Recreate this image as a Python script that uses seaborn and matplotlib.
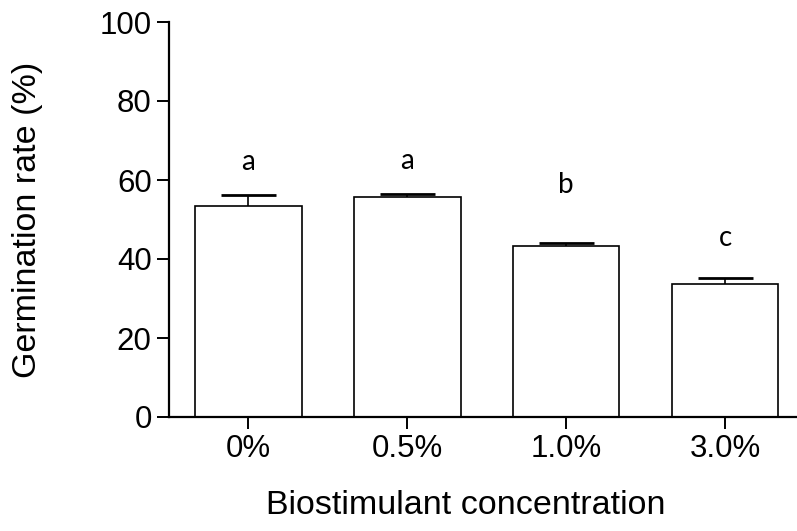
import matplotlib
matplotlib.use("Agg")
import matplotlib.pyplot as plt
import seaborn as sns
import pandas as pd
import numpy as np

categories = ["0%", "0.5%", "1.0%", "3.0%"]
means = [53.3, 55.8, 43.3, 33.7]
errors = [3.0, 0.6, 0.8, 1.5]
letters = ["a", "a", "b", "c"]
letter_y = [64.5, 64.8, 58.7, 45.3]
yticks = [0, 20, 40, 60, 80, 100]

sns.set_style("ticks")
plt.rcParams["font.family"] = ["Liberation Sans", "DejaVu Sans"]

fig = plt.figure(figsize=(7.97, 5.31), dpi=100)
W, H = 797, 531
x0, x1 = 169, 804.5
y0, y1 = 417, 22
ax = fig.add_axes([x0 / W, 1 - y0 / H, (x1 - x0) / W, (y0 - y1) / H])

df = pd.DataFrame({"cat": categories, "val": means})
sns.barplot(data=df, x="cat", y="val", ax=ax, color="white", edgecolor="black",
            linewidth=1.2, width=0.67, errorbar=None, saturation=1)

xs = np.arange(len(categories))
m = np.array(means)
e = np.array(errors)
cap = 0.173
ax.vlines(xs, m, m + e, colors="black", linewidth=1.2, zorder=3)
ax.hlines(m + e, xs - cap, xs + cap, colors="black", linewidth=2.0, zorder=3)

for x, t, ly in zip(xs, letters, letter_y):
    ax.text(x, ly, t, ha="center", va="center", fontsize=20,
            family=["Lato", "DejaVu Sans"], color="black")

ax.set_xlim(-0.5, 3.5)
ax.set_ylim(0, 100)
ax.set_yticks(yticks)
ax.set_yticklabels([str(v) for v in yticks])
for s in ["top", "right"]:
    ax.spines[s].set_visible(False)
for s in ["left", "bottom"]:
    ax.spines[s].set_linewidth(1.6)
    ax.spines[s].set_color("black")
ax.tick_params(axis="both", length=8.5, width=1.4, color="black",
               labelsize=22.5, labelcolor="black", pad=4)
ax.set_xlabel("Biostimulant concentration", fontsize=24.5, color="black")
ax.set_ylabel("Germination rate (%)", fontsize=24.5, color="black")
ax.xaxis.set_label_coords((466 - x0) / (x1 - x0), -0.185)
ax.yaxis.set_label_coords((43 - x0) / (x1 - x0), 0.5)

fig.savefig("out.png", dpi=100)
